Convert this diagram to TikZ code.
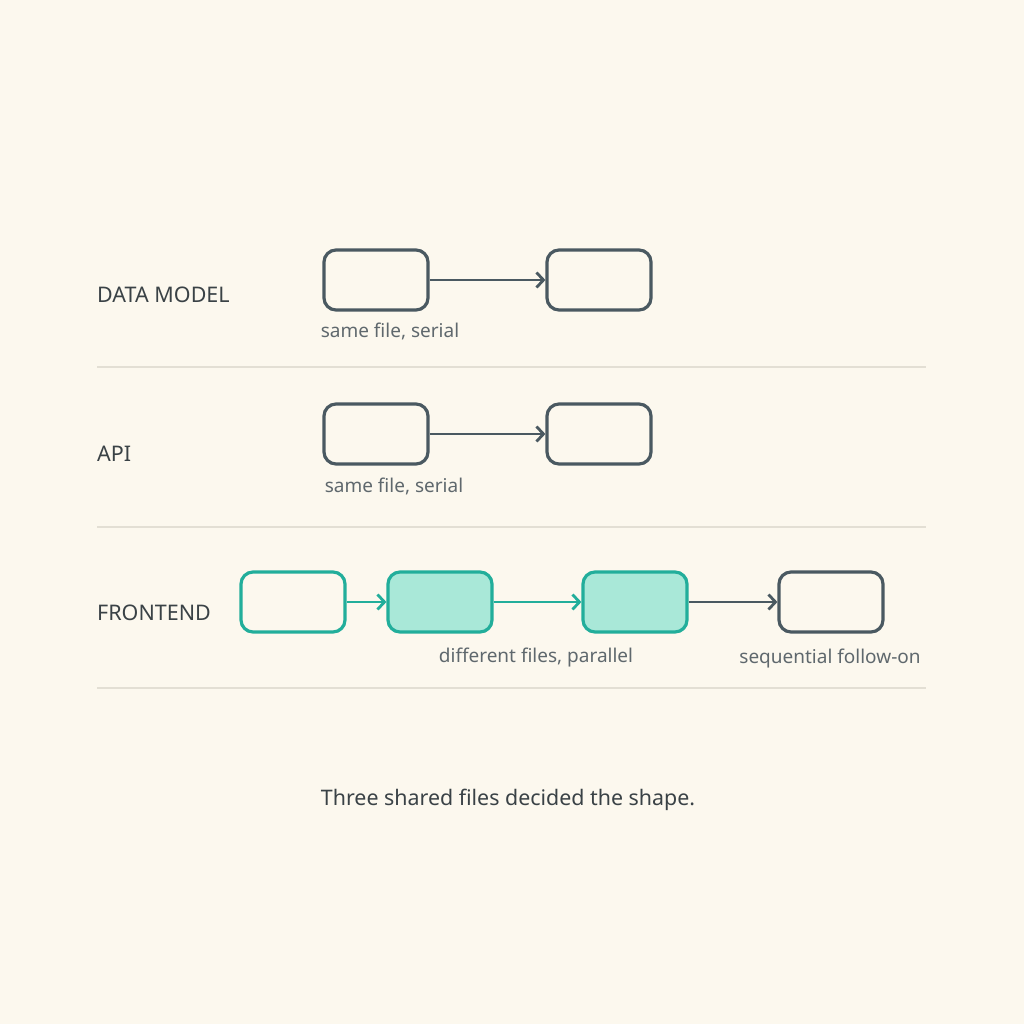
\documentclass[tikz,border=0pt]{standalone}
\usepackage{fontspec}
\setmainfont{Noto Sans}
\usetikzlibrary{arrows.meta}
\definecolor{bg}{HTML}{FCF8EE}
\definecolor{graystroke}{HTML}{4A5961}
\definecolor{teal}{HTML}{22AE9B}
\definecolor{tealfill}{HTML}{A9E8D8}
\definecolor{sep}{HTML}{E3DFD4}
\definecolor{txt}{HTML}{3A4246}
\definecolor{subtxt}{HTML}{5F686D}
\begin{document}
\begin{tikzpicture}[x=1pt,y=-1pt,
  box/.style={draw=graystroke,line width=3.2pt,rounded corners=12pt,minimum width=104pt,minimum height=60pt,inner sep=0pt},
  tbox/.style={draw=teal,line width=3.2pt,rounded corners=12pt,minimum width=104pt,minimum height=60pt,inner sep=0pt,fill=bg},
  tfbox/.style={tbox,fill=tealfill},
  garrow/.style={draw=graystroke,line width=2.8pt,-{Straight Barb[length=7pt,width=15pt,line width=2.8pt]}},
  tarrow/.style={draw=teal,line width=2.8pt,-{Straight Barb[length=7pt,width=15pt,line width=2.8pt]}},
  rowlabel/.style={anchor=west,text=txt,font=\fontsize{21.5}{24}\selectfont,inner sep=0pt},
  sublabel/.style={text=subtxt,font=\fontsize{19}{22}\selectfont,inner sep=0pt},
  sepline/.style={draw=sep,line width=1.8pt}]
\fill[bg] (0,0) rectangle (1024,1024);
\useasboundingbox (0,0) rectangle (1024,1024);
% row 1
\node[rowlabel] (l1) at (97,295) {DATA MODEL};
\node[box] (a1) at (376,280) {};
\node[box] (a2) at (599,280) {};
\draw[garrow] (a1) -- (a2);
\node[sublabel] (s1) at (390,331) {same file, serial};
\coordinate (p1) at (97,367); \coordinate (q1) at (926,367);
\draw[sepline] (p1) -- (q1);
% row 2
\node[rowlabel] (l2) at (97,454) {API};
\node[box] (b1) at (376,434) {};
\node[box] (b2) at (599,434) {};
\draw[garrow] (b1) -- (b2);
\node[sublabel] (s2) at (394,486) {same file, serial};
\coordinate (p2) at (97,527); \coordinate (q2) at (926,527);
\draw[sepline] (p2) -- (q2);
% row 3
\node[rowlabel] (l3) at (97,613) {FRONTEND};
\node[tbox] (c1) at (293,602) {};
\node[tfbox] (c2) at (440,602) {};
\node[tfbox] (c3) at (635,602) {};
\node[box] (c4) at (831,602) {};
\draw[tarrow] (c1) -- (c2);
\draw[tarrow] (c2) -- (c3);
\draw[garrow] (c3) -- (c4);
\node[sublabel] (s3) at (536,658) {different files, parallel};
\node[sublabel] (s4) at (830,659) {sequential follow-on};
\coordinate (p3) at (97,688); \coordinate (q3) at (926,688);
\draw[sepline] (p3) -- (q3);
% caption
\node[text=txt,font=\fontsize{21.4}{25}\selectfont,inner sep=0pt] (cap) at (508,800) {Three shared files decided the shape.};
\end{tikzpicture}
\end{document}
